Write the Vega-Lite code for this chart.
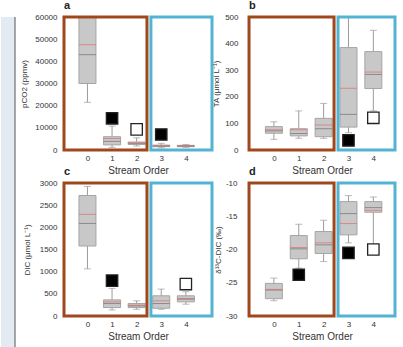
{
  "$schema": "https://vega.github.io/schema/vega-lite/v6.json",
  "background": "#ffffff",
  "padding": 0,
  "spacing": 0,
  "config": {
    "font": "Liberation Sans",
    "locale": {"number": {"decimal": ".", "thousands": ",", "grouping": [3], "currency": ["$", ""], "minus": "-"}},
    "view": {"stroke": null},
    "axis": {"labelFont": "Liberation Sans", "titleFont": "Liberation Sans", "labelFontSize": 8, "labelColor": "#333333", "titleFontSize": 8, "titleColor": "#333333", "titleFontWeight": "normal", "ticks": false, "domain": false, "grid": false, "labelOverlap": false, "labelFlush": false},
    "title": {"fontSize": 11, "fontWeight": "bold", "anchor": "start", "frame": "group", "offset": 2, "color": "#222222", "font": "Liberation Sans"}
  },
  "datasets": {
    "boxes": [
      {"panel": "a", "order": 0, "lo": 21500, "q1": 30000, "median": 43000, "mean": 47500, "q3": 62000, "hi": 70000},
      {"panel": "a", "order": 1, "lo": 1200, "q1": 2300, "median": 3900, "mean": 5200, "q3": 6000, "hi": 10800},
      {"panel": "a", "order": 2, "lo": 1800, "q1": 2500, "median": 3000, "mean": 3100, "q3": 3600, "hi": 5500},
      {"panel": "a", "order": 3, "lo": 1000, "q1": 1500, "median": 1800, "mean": 1900, "q3": 2200, "hi": 3000},
      {"panel": "a", "order": 4, "lo": 1200, "q1": 1500, "median": 1800, "mean": 1850, "q3": 2100, "hi": 2500},
      {"panel": "b", "order": 0, "lo": 40, "q1": 63, "median": 72, "mean": 76, "q3": 88, "hi": 106},
      {"panel": "b", "order": 1, "lo": 44, "q1": 53, "median": 62, "mean": 76, "q3": 80, "hi": 147},
      {"panel": "b", "order": 2, "lo": 44, "q1": 50, "median": 80, "mean": 94, "q3": 119, "hi": 175},
      {"panel": "b", "order": 3, "lo": 65, "q1": 86, "median": 134, "mean": 232, "q3": 385, "hi": 560},
      {"panel": "b", "order": 4, "lo": 147, "q1": 231, "median": 284, "mean": 293, "q3": 370, "hi": 450},
      {"panel": "c", "order": 0, "lo": 1063, "q1": 1579, "median": 2088, "mean": 2293, "q3": 2718, "hi": 2923},
      {"panel": "c", "order": 1, "lo": 137, "q1": 190, "median": 281, "mean": 319, "q3": 364, "hi": 623},
      {"panel": "c", "order": 2, "lo": 152, "q1": 190, "median": 228, "mean": 243, "q3": 281, "hi": 342},
      {"panel": "c", "order": 3, "lo": 152, "q1": 175, "median": 281, "mean": 342, "q3": 456, "hi": 607},
      {"panel": "c", "order": 4, "lo": 266, "q1": 319, "median": 380, "mean": 395, "q3": 456, "hi": 547},
      {"panel": "d", "order": 0, "lo": -27.7, "q1": -27.4, "median": -26.1, "mean": -26.0, "q3": -25.1, "hi": -24.3},
      {"panel": "d", "order": 1, "lo": -22.8, "q1": -21.4, "median": -19.9, "mean": -19.7, "q3": -17.9, "hi": -16.2},
      {"panel": "d", "order": 2, "lo": -21.8, "q1": -20.6, "median": -19.3, "mean": -19.0, "q3": -17.3, "hi": -15.6},
      {"panel": "d", "order": 3, "lo": -19.0, "q1": -17.8, "median": -14.6, "mean": -16.1, "q3": -12.8, "hi": -11.9},
      {"panel": "d", "order": 4, "lo": -19.8, "q1": -14.4, "median": -13.7, "mean": -14.1, "q3": -12.8, "hi": -12.1}
    ],
    "markers": [
      {"panel": "a", "order": 1, "value": 14300, "kind": "filled"},
      {"panel": "a", "order": 2, "value": 9300, "kind": "open"},
      {"panel": "a", "order": 3, "value": 7000, "kind": "filled"},
      {"panel": "b", "order": 3, "value": 36, "kind": "filled"},
      {"panel": "b", "order": 4, "value": 121, "kind": "open"},
      {"panel": "c", "order": 1, "value": 797, "kind": "filled"},
      {"panel": "c", "order": 4, "value": 721, "kind": "open"},
      {"panel": "d", "order": 1, "value": -23.8, "kind": "filled"},
      {"panel": "d", "order": 3, "value": -20.5, "kind": "filled"},
      {"panel": "d", "order": 4, "value": -20.0, "kind": "open"}
    ],
    "frames": [
      {"group": "orders 0-2", "lo": -1, "hi": 2.42},
      {"group": "orders 3-4", "lo": 2.58, "hi": 6}
    ]
  },
  "vconcat": [
    {
      "spacing": 4,
      "hconcat": [
        {
          "width": 14, "height": 341,
          "view": {"fill": "#e3eaf2", "stroke": null},
          "data": {"values": [{"edge": "border"}]},
          "mark": {"type": "rule", "color": "#555555", "strokeWidth": 1},
          "encoding": {"x": {"datum": 1, "type": "quantitative", "scale": {"domain": [0, 1]}, "axis": null}}
        },
        {
          "bounds": "flush",
          "columns": 2,
          "spacing": {"row": 33, "column": 37},
          "concat": [
            {
              "width": 148, "height": 133,
              "title": "a",
              "encoding": {
                "x": {"field": "order", "type": "quantitative", "scale": {"domain": [-0.75, 4.86], "nice": false, "zero": false, "clamp": true}, "axis": {"values": [0, 1, 2, 3, 4], "labelOverlap": false, "format": "d", "title": "Stream Order", "titleFontSize": 10, "labelPadding": 4, "titlePadding": 3}},
                "y": {"field": "lo", "type": "quantitative", "scale": {"domain": [0, 60000], "nice": false, "zero": false}, "axis": {"values": [0, 10000, 20000, 30000, 40000, 50000, 60000], "labelOverlap": false, "format": "d", "title": "pCO2 (ppmv)", "labelPadding": 7, "titlePadding": 6}}
              },
              "layer": [
                {"data": {"name": "boxes"}, "transform": [{"filter": "datum.panel === 'a'"}],
                 "layer": [
                   {"mark": {"type": "rule", "color": "#9c9c9c", "clip": true}, "encoding": {"y2": {"field": "hi"}}},
                   {"mark": {"type": "tick", "orient": "horizontal", "size": 7, "thickness": 1, "color": "#9c9c9c", "clip": true}},
                   {"mark": {"type": "tick", "orient": "horizontal", "size": 7, "thickness": 1, "color": "#9c9c9c", "clip": true}, "encoding": {"y": {"field": "hi", "type": "quantitative"}}},
                   {"mark": {"type": "bar", "width": 17, "fill": "#c8c8c8", "stroke": "#a5a5a5", "strokeWidth": 1, "clip": true}, "encoding": {"y": {"field": "q1", "type": "quantitative"}, "y2": {"field": "q3"}}},
                   {"mark": {"type": "tick", "orient": "horizontal", "size": 17, "thickness": 1, "color": "#707070", "clip": true}, "encoding": {"y": {"field": "median", "type": "quantitative"}}},
                   {"mark": {"type": "tick", "orient": "horizontal", "size": 17, "thickness": 1, "color": "#e36b6b", "clip": true}, "encoding": {"y": {"field": "mean", "type": "quantitative"}}}
                 ]},
                {"data": {"name": "markers"}, "transform": [{"filter": "datum.panel === 'a'"}],
                 "mark": {"type": "point", "shape": "square", "filled": true, "size": 130, "stroke": "#222222", "strokeWidth": 1.3, "opacity": 1},
                 "encoding": {"y": {"field": "value", "type": "quantitative"}, "fill": {"field": "kind", "type": "nominal", "scale": {"domain": ["filled", "open"], "range": ["#000000", "#ffffff"]}, "legend": null}}},
                {"data": {"name": "frames"},
                 "mark": {"type": "rect", "filled": false, "strokeWidth": 3},
                 "encoding": {"x": {"field": "lo", "type": "quantitative"}, "x2": {"field": "hi"}, "y": {"datum": 60000, "type": "quantitative"}, "y2": {"datum": 0}, "stroke": {"field": "group", "type": "nominal", "scale": {"domain": ["orders 0-2", "orders 3-4"], "range": ["#9f481d", "#52b4d2"]}, "legend": null}}}
              ]
            },
            {
              "width": 146, "height": 133,
              "title": "b",
              "encoding": {
                "x": {"field": "order", "type": "quantitative", "scale": {"domain": [-0.8, 4.67], "nice": false, "zero": false, "clamp": true}, "axis": {"values": [0, 1, 2, 3, 4], "labelOverlap": false, "format": "d", "title": "Stream Order", "titleFontSize": 10, "labelPadding": 4, "titlePadding": 3}},
                "y": {"field": "lo", "type": "quantitative", "scale": {"domain": [0, 500], "nice": false, "zero": false}, "axis": {"values": [0, 100, 200, 300, 400, 500], "labelOverlap": false, "format": "d", "title": "TA (μmol L⁻¹)", "labelPadding": 11, "titlePadding": 4}}
              },
              "layer": [
                {"data": {"name": "boxes"}, "transform": [{"filter": "datum.panel === 'b'"}],
                 "layer": [
                   {"mark": {"type": "rule", "color": "#9c9c9c", "clip": true}, "encoding": {"y2": {"field": "hi"}}},
                   {"mark": {"type": "tick", "orient": "horizontal", "size": 7, "thickness": 1, "color": "#9c9c9c", "clip": true}},
                   {"mark": {"type": "tick", "orient": "horizontal", "size": 7, "thickness": 1, "color": "#9c9c9c", "clip": true}, "encoding": {"y": {"field": "hi", "type": "quantitative"}}},
                   {"mark": {"type": "bar", "width": 17, "fill": "#c8c8c8", "stroke": "#a5a5a5", "strokeWidth": 1, "clip": true}, "encoding": {"y": {"field": "q1", "type": "quantitative"}, "y2": {"field": "q3"}}},
                   {"mark": {"type": "tick", "orient": "horizontal", "size": 17, "thickness": 1, "color": "#707070", "clip": true}, "encoding": {"y": {"field": "median", "type": "quantitative"}}},
                   {"mark": {"type": "tick", "orient": "horizontal", "size": 17, "thickness": 1, "color": "#e36b6b", "clip": true}, "encoding": {"y": {"field": "mean", "type": "quantitative"}}}
                 ]},
                {"data": {"name": "markers"}, "transform": [{"filter": "datum.panel === 'b'"}],
                 "mark": {"type": "point", "shape": "square", "filled": true, "size": 130, "stroke": "#222222", "strokeWidth": 1.3, "opacity": 1},
                 "encoding": {"y": {"field": "value", "type": "quantitative"}, "fill": {"field": "kind", "type": "nominal", "scale": {"domain": ["filled", "open"], "range": ["#000000", "#ffffff"]}, "legend": null}}},
                {"data": {"name": "frames"},
                 "mark": {"type": "rect", "filled": false, "strokeWidth": 3},
                 "encoding": {"x": {"field": "lo", "type": "quantitative"}, "x2": {"field": "hi"}, "y": {"datum": 500, "type": "quantitative"}, "y2": {"datum": 0}, "stroke": {"field": "group", "type": "nominal", "scale": {"domain": ["orders 0-2", "orders 3-4"], "range": ["#9f481d", "#52b4d2"]}, "legend": null}}}
              ]
            },
            {
              "width": 148, "height": 133,
              "title": "c",
              "encoding": {
                "x": {"field": "order", "type": "quantitative", "scale": {"domain": [-0.75, 4.86], "nice": false, "zero": false, "clamp": true}, "axis": {"values": [0, 1, 2, 3, 4], "labelOverlap": false, "format": "d", "title": "Stream Order", "titleFontSize": 10, "labelPadding": 4, "titlePadding": 3}},
                "y": {"field": "lo", "type": "quantitative", "scale": {"domain": [0, 3000], "nice": false, "zero": false}, "axis": {"values": [0, 500, 1000, 1500, 2000, 2500, 3000], "labelOverlap": false, "format": "d", "title": "DIC (μmol L⁻¹)", "labelPadding": 7, "titlePadding": 8}}
              },
              "layer": [
                {"data": {"name": "boxes"}, "transform": [{"filter": "datum.panel === 'c'"}],
                 "layer": [
                   {"mark": {"type": "rule", "color": "#9c9c9c", "clip": true}, "encoding": {"y2": {"field": "hi"}}},
                   {"mark": {"type": "tick", "orient": "horizontal", "size": 7, "thickness": 1, "color": "#9c9c9c", "clip": true}},
                   {"mark": {"type": "tick", "orient": "horizontal", "size": 7, "thickness": 1, "color": "#9c9c9c", "clip": true}, "encoding": {"y": {"field": "hi", "type": "quantitative"}}},
                   {"mark": {"type": "bar", "width": 17, "fill": "#c8c8c8", "stroke": "#a5a5a5", "strokeWidth": 1, "clip": true}, "encoding": {"y": {"field": "q1", "type": "quantitative"}, "y2": {"field": "q3"}}},
                   {"mark": {"type": "tick", "orient": "horizontal", "size": 17, "thickness": 1, "color": "#707070", "clip": true}, "encoding": {"y": {"field": "median", "type": "quantitative"}}},
                   {"mark": {"type": "tick", "orient": "horizontal", "size": 17, "thickness": 1, "color": "#e36b6b", "clip": true}, "encoding": {"y": {"field": "mean", "type": "quantitative"}}}
                 ]},
                {"data": {"name": "markers"}, "transform": [{"filter": "datum.panel === 'c'"}],
                 "mark": {"type": "point", "shape": "square", "filled": true, "size": 130, "stroke": "#222222", "strokeWidth": 1.3, "opacity": 1},
                 "encoding": {"y": {"field": "value", "type": "quantitative"}, "fill": {"field": "kind", "type": "nominal", "scale": {"domain": ["filled", "open"], "range": ["#000000", "#ffffff"]}, "legend": null}}},
                {"data": {"name": "frames"},
                 "mark": {"type": "rect", "filled": false, "strokeWidth": 3},
                 "encoding": {"x": {"field": "lo", "type": "quantitative"}, "x2": {"field": "hi"}, "y": {"datum": 3000, "type": "quantitative"}, "y2": {"datum": 0}, "stroke": {"field": "group", "type": "nominal", "scale": {"domain": ["orders 0-2", "orders 3-4"], "range": ["#9f481d", "#52b4d2"]}, "legend": null}}}
              ]
            },
            {
              "width": 146, "height": 133,
              "title": "d",
              "encoding": {
                "x": {"field": "order", "type": "quantitative", "scale": {"domain": [-0.8, 4.67], "nice": false, "zero": false, "clamp": true}, "axis": {"values": [0, 1, 2, 3, 4], "labelOverlap": false, "format": "d", "title": "Stream Order", "titleFontSize": 10, "labelPadding": 4, "titlePadding": 3}},
                "y": {"field": "lo", "type": "quantitative", "scale": {"domain": [-30, -10], "nice": false, "zero": false}, "axis": {"values": [-30, -25, -20, -15, -10], "labelOverlap": false, "format": "d", "title": "δ¹³C-DIC (‰)", "labelPadding": 12, "titlePadding": 3}}
              },
              "layer": [
                {"data": {"name": "boxes"}, "transform": [{"filter": "datum.panel === 'd'"}],
                 "layer": [
                   {"mark": {"type": "rule", "color": "#9c9c9c", "clip": true}, "encoding": {"y2": {"field": "hi"}}},
                   {"mark": {"type": "tick", "orient": "horizontal", "size": 7, "thickness": 1, "color": "#9c9c9c", "clip": true}},
                   {"mark": {"type": "tick", "orient": "horizontal", "size": 7, "thickness": 1, "color": "#9c9c9c", "clip": true}, "encoding": {"y": {"field": "hi", "type": "quantitative"}}},
                   {"mark": {"type": "bar", "width": 17, "fill": "#c8c8c8", "stroke": "#a5a5a5", "strokeWidth": 1, "clip": true}, "encoding": {"y": {"field": "q1", "type": "quantitative"}, "y2": {"field": "q3"}}},
                   {"mark": {"type": "tick", "orient": "horizontal", "size": 17, "thickness": 1, "color": "#707070", "clip": true}, "encoding": {"y": {"field": "median", "type": "quantitative"}}},
                   {"mark": {"type": "tick", "orient": "horizontal", "size": 17, "thickness": 1, "color": "#e36b6b", "clip": true}, "encoding": {"y": {"field": "mean", "type": "quantitative"}}}
                 ]},
                {"data": {"name": "markers"}, "transform": [{"filter": "datum.panel === 'd'"}],
                 "mark": {"type": "point", "shape": "square", "filled": true, "size": 130, "stroke": "#222222", "strokeWidth": 1.3, "opacity": 1},
                 "encoding": {"y": {"field": "value", "type": "quantitative"}, "fill": {"field": "kind", "type": "nominal", "scale": {"domain": ["filled", "open"], "range": ["#000000", "#ffffff"]}, "legend": null}}},
                {"data": {"name": "frames"},
                 "mark": {"type": "rect", "filled": false, "strokeWidth": 3},
                 "encoding": {"x": {"field": "lo", "type": "quantitative"}, "x2": {"field": "hi"}, "y": {"datum": -10, "type": "quantitative"}, "y2": {"datum": -30}, "stroke": {"field": "group", "type": "nominal", "scale": {"domain": ["orders 0-2", "orders 3-4"], "range": ["#9f481d", "#52b4d2"]}, "legend": null}}}
              ]
            }
          ]
        }
      ]
    },
    {
      "width": 403, "height": 6,
      "view": {"fill": "#dfe7f1", "stroke": null},
      "data": {"values": [{"edge": "border"}]},
      "mark": {"type": "rule", "color": "#555555", "strokeWidth": 1},
      "encoding": {"y": {"datum": 1, "type": "quantitative", "scale": {"domain": [0, 1]}, "axis": null}}
    }
  ]
}
